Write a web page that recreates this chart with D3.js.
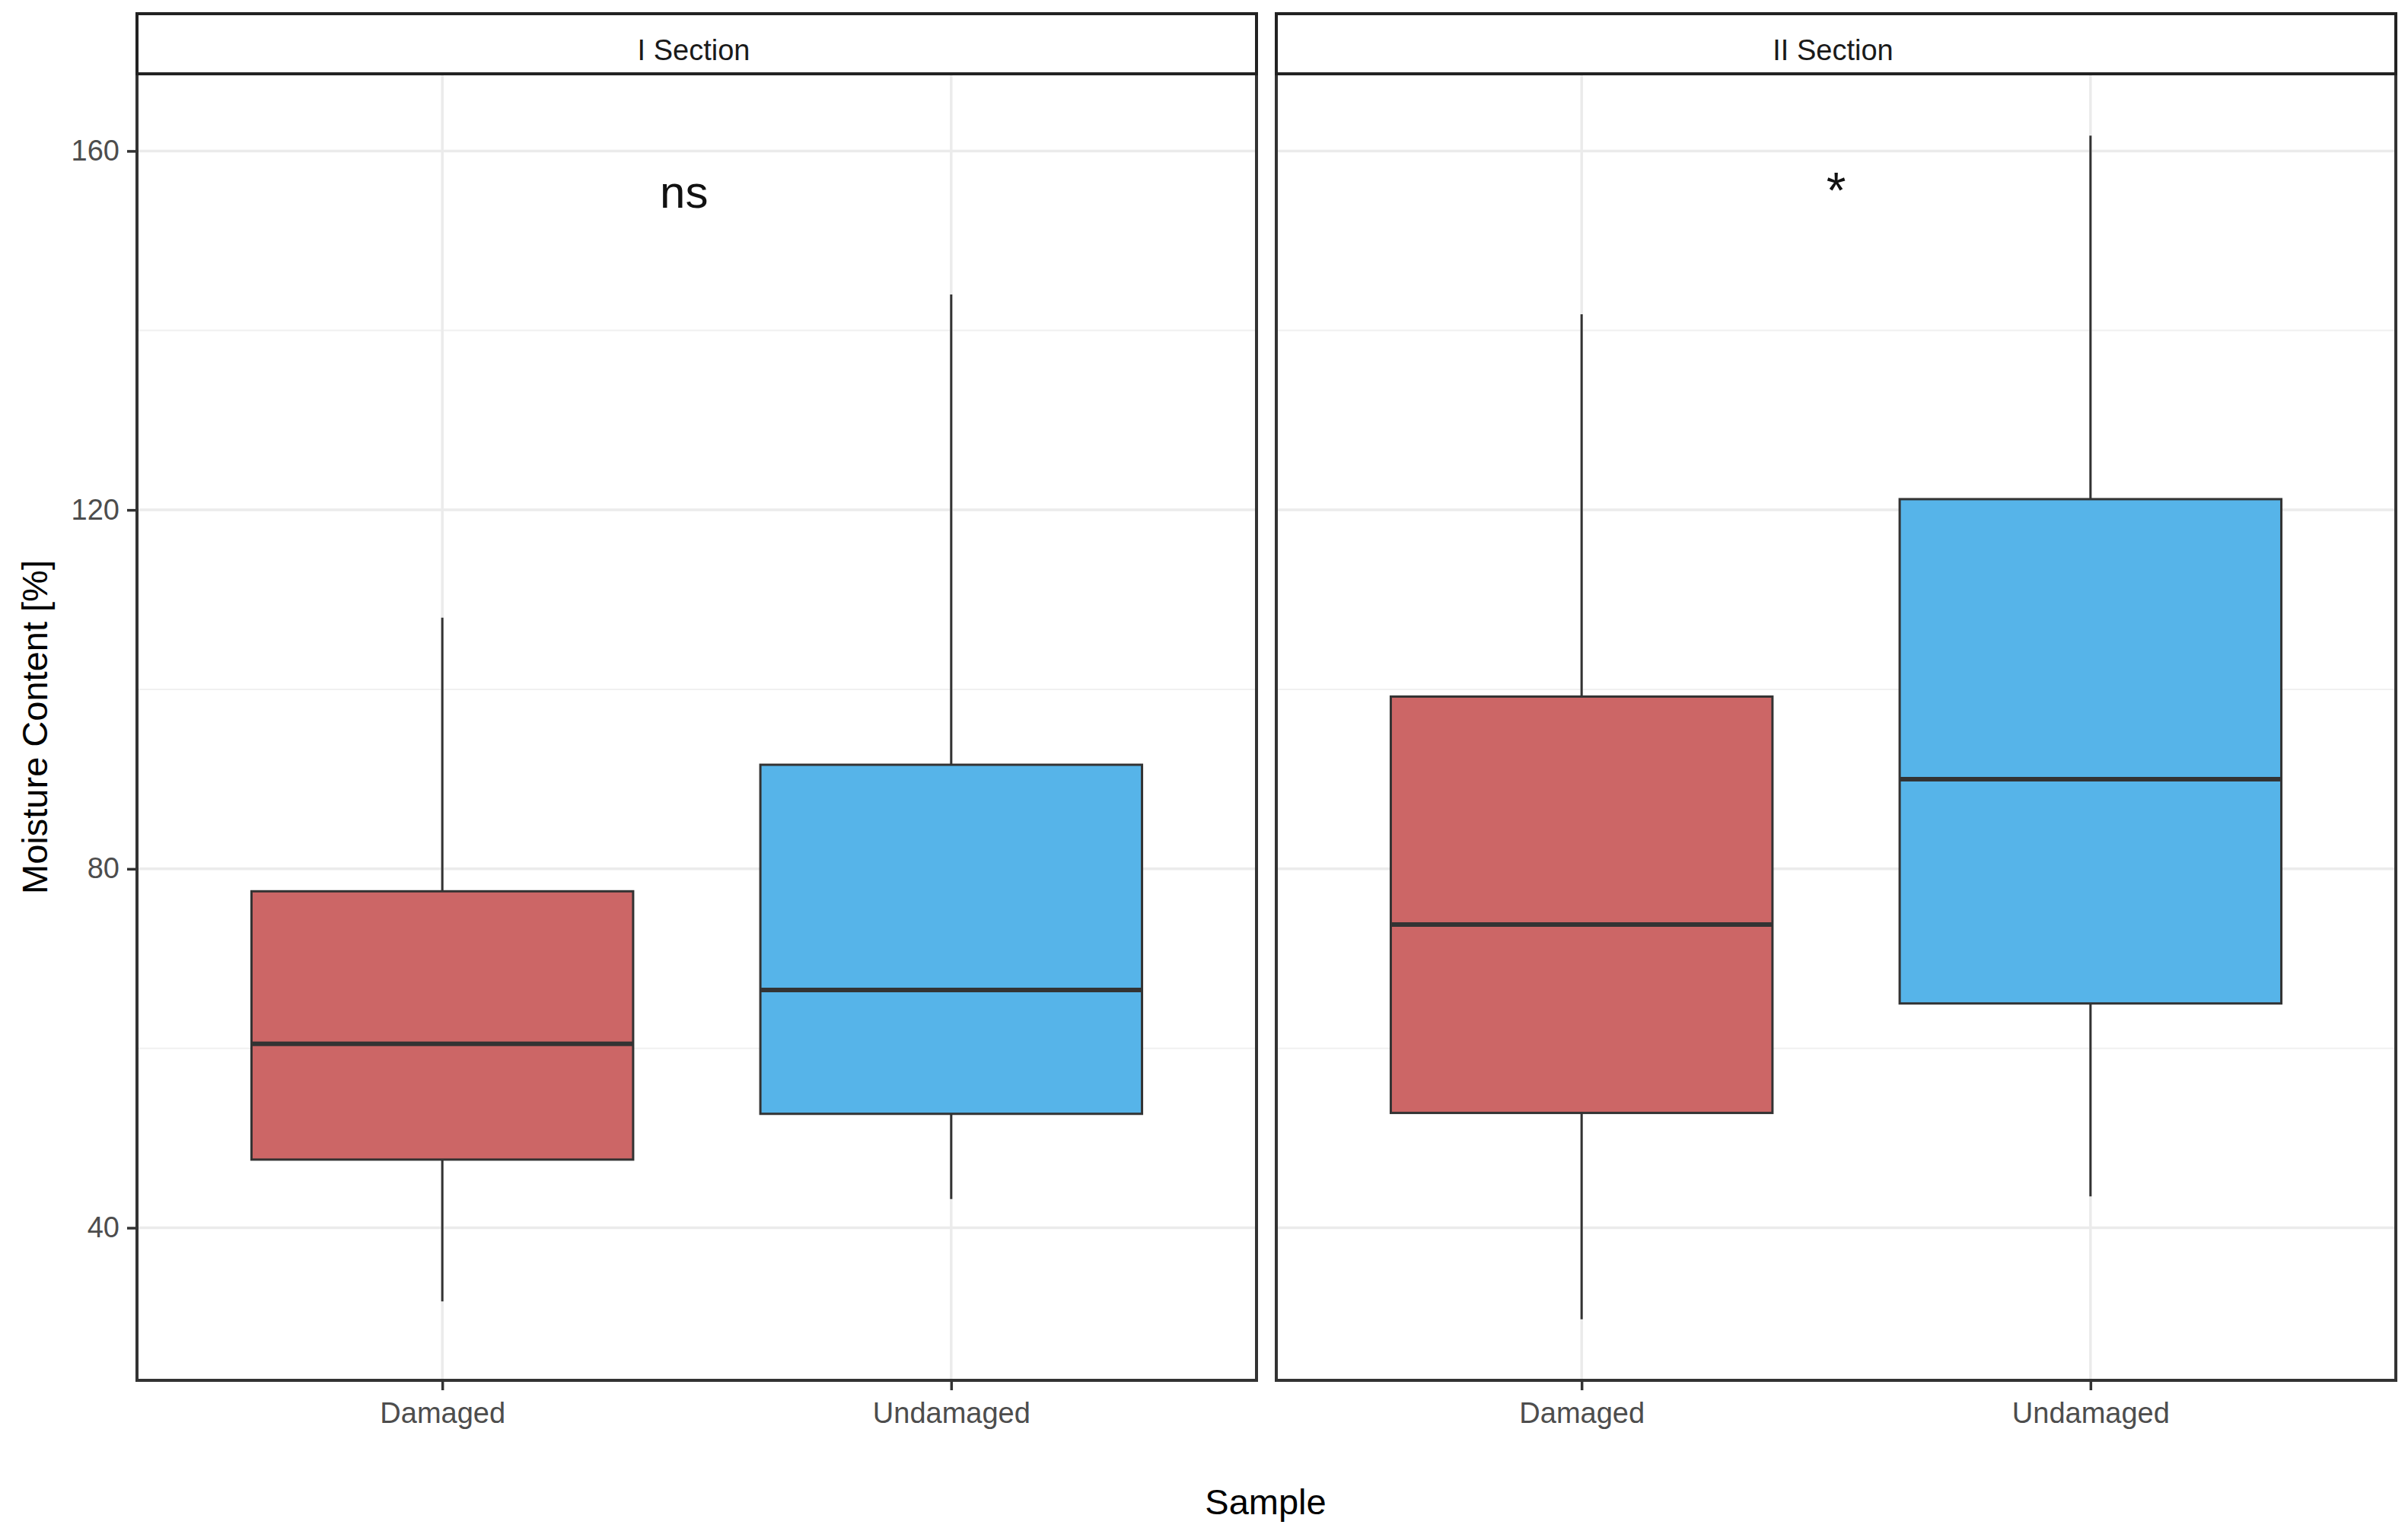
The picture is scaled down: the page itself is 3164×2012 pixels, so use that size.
<!DOCTYPE html>
<html>
<head>
<meta charset="utf-8">
<script src="https://cdn.jsdelivr.net/npm/d3@7"></script>
<style>
  body { margin: 0; background: #fff; }
  text { font-family: "Liberation Sans", Arial, sans-serif; }
</style>
</head>
<body>
<div id="chart"></div>
<script>
// data
const sections = ["I Section", "II Section"];
const samples = ["Damaged", "Undamaged"];
const fills = ["#CC6666", "#56B4E9"];
// per section: [Damaged, Undamaged]
const whiskerLow  = [[31.8, 43.2], [29.8, 43.5]];
const q1          = [[47.6, 52.7], [52.8, 65.0]];
const median      = [[60.5, 66.5], [73.8, 90.0]];
const q3          = [[77.5, 91.6], [99.2, 121.2]];
const whiskerHigh = [[108.0, 144.0], [141.8, 161.7]];
const signifLabels = ["ns", "*"];
const signifX = [1.475, 1.5];   // in category units (1 = Damaged, 2 = Undamaged)
const signifY = 153.7;
const majorTicks = [40, 80, 120, 160];
const minorTicks = [60, 100, 140];

const width = 3164, height = 2012;
const panelTop = 97, panelBottom = 1814, stripTop = 18;
const panelLefts = [180, 1677], panelW = 1471;

const svg = d3.select("#chart").append("svg")
  .attr("width", width).attr("height", height);

const y = d3.scaleLinear().domain([23.0, 168.6]).range([panelBottom, panelTop]);

sections.forEach((sec, si) => {
  const left = panelLefts[si];
  const x = d3.scalePoint().domain(samples).range([left, left + panelW]).padding(0.6);
  const boxW = x.step() * 0.75;
  const g = svg.append("g");

  // grid
  g.selectAll(".minor").data(minorTicks).enter().append("line")
    .attr("x1", left).attr("x2", left + panelW)
    .attr("y1", d => y(d)).attr("y2", d => y(d))
    .attr("stroke", "#f0f0f0").attr("stroke-width", 2);
  g.selectAll(".major").data(majorTicks).enter().append("line")
    .attr("x1", left).attr("x2", left + panelW)
    .attr("y1", d => y(d)).attr("y2", d => y(d))
    .attr("stroke", "#ebebeb").attr("stroke-width", 3.5);
  g.selectAll(".vgrid").data(samples).enter().append("line")
    .attr("x1", d => x(d)).attr("x2", d => x(d))
    .attr("y1", panelTop).attr("y2", panelBottom)
    .attr("stroke", "#ebebeb").attr("stroke-width", 3.5);

  // boxes
  samples.forEach((s, i) => {
    const cx = x(s);
    g.append("line")
      .attr("x1", cx).attr("x2", cx)
      .attr("y1", y(whiskerHigh[si][i])).attr("y2", y(whiskerLow[si][i]))
      .attr("stroke", "#333333").attr("stroke-width", 3);
    g.append("rect")
      .attr("x", cx - boxW / 2).attr("width", boxW)
      .attr("y", y(q3[si][i])).attr("height", y(q1[si][i]) - y(q3[si][i]))
      .attr("fill", fills[i]).attr("stroke", "#333333").attr("stroke-width", 3);
    g.append("line")
      .attr("x1", cx - boxW / 2).attr("x2", cx + boxW / 2)
      .attr("y1", y(median[si][i])).attr("y2", y(median[si][i]))
      .attr("stroke", "#333333").attr("stroke-width", 6);
  });

  // significance label
  const sx = x(samples[0]) + (signifX[si] - 1) * x.step();
  g.append("text")
    .attr("x", sx).attr("y", y(signifY))
    .attr("text-anchor", "middle")
    .style("font-family", "'Liberation Sans Narrow', 'Liberation Sans', Arial, sans-serif")
    .attr("font-size", si === 0 ? 60 : 66).attr("fill", "#111")
    .text(signifLabels[si]);

  // panel border
  g.append("rect")
    .attr("x", left).attr("y", panelTop).attr("width", panelW).attr("height", panelBottom - panelTop)
    .attr("fill", "none").attr("stroke", "#333333").attr("stroke-width", 4);

  // strip
  g.append("rect")
    .attr("x", left).attr("y", stripTop).attr("width", panelW).attr("height", panelTop - stripTop)
    .attr("fill", "#fff").attr("stroke", "#222").attr("stroke-width", 4);
  g.append("text")
    .attr("x", left + panelW / 2 - 4).attr("y", 79)
    .attr("text-anchor", "middle").attr("font-size", 38).attr("fill", "#1a1a1a")
    .text(sec);

  // x axis
  const xAxis = svg.append("g")
    .attr("transform", `translate(0,${panelBottom})`)
    .call(d3.axisBottom(x).tickSize(13).tickPadding(16));
  xAxis.select(".domain").remove();
  xAxis.selectAll("line").attr("stroke", "#333333").attr("stroke-width", 3.5);
  xAxis.selectAll("text").attr("font-size", 38).attr("fill", "#4d4d4d")
    .style("font-family", "'Liberation Sans', Arial, sans-serif");
});

// y axis on left panel
const yAxis = svg.append("g")
  .attr("transform", `translate(${panelLefts[0]},0)`)
  .call(d3.axisLeft(y).tickValues(majorTicks).tickSize(13).tickPadding(10));
yAxis.select(".domain").remove();
yAxis.selectAll("line").attr("stroke", "#333333").attr("stroke-width", 3.5);
yAxis.selectAll("text").attr("font-size", 38).attr("fill", "#4d4d4d")
  .style("font-family", "'Liberation Sans', Arial, sans-serif");

// axis titles
svg.append("text")
  .attr("x", 1663).attr("y", 1990)
  .attr("text-anchor", "middle").attr("font-size", 47).attr("fill", "#000")
  .text("Sample");

svg.append("text")
  .attr("transform", `translate(62,${(panelTop + panelBottom) / 2}) rotate(-90)`)
  .attr("text-anchor", "middle").attr("font-size", 47).attr("fill", "#000")
  .text("Moisture Content [%]");
</script>
</body>
</html>
